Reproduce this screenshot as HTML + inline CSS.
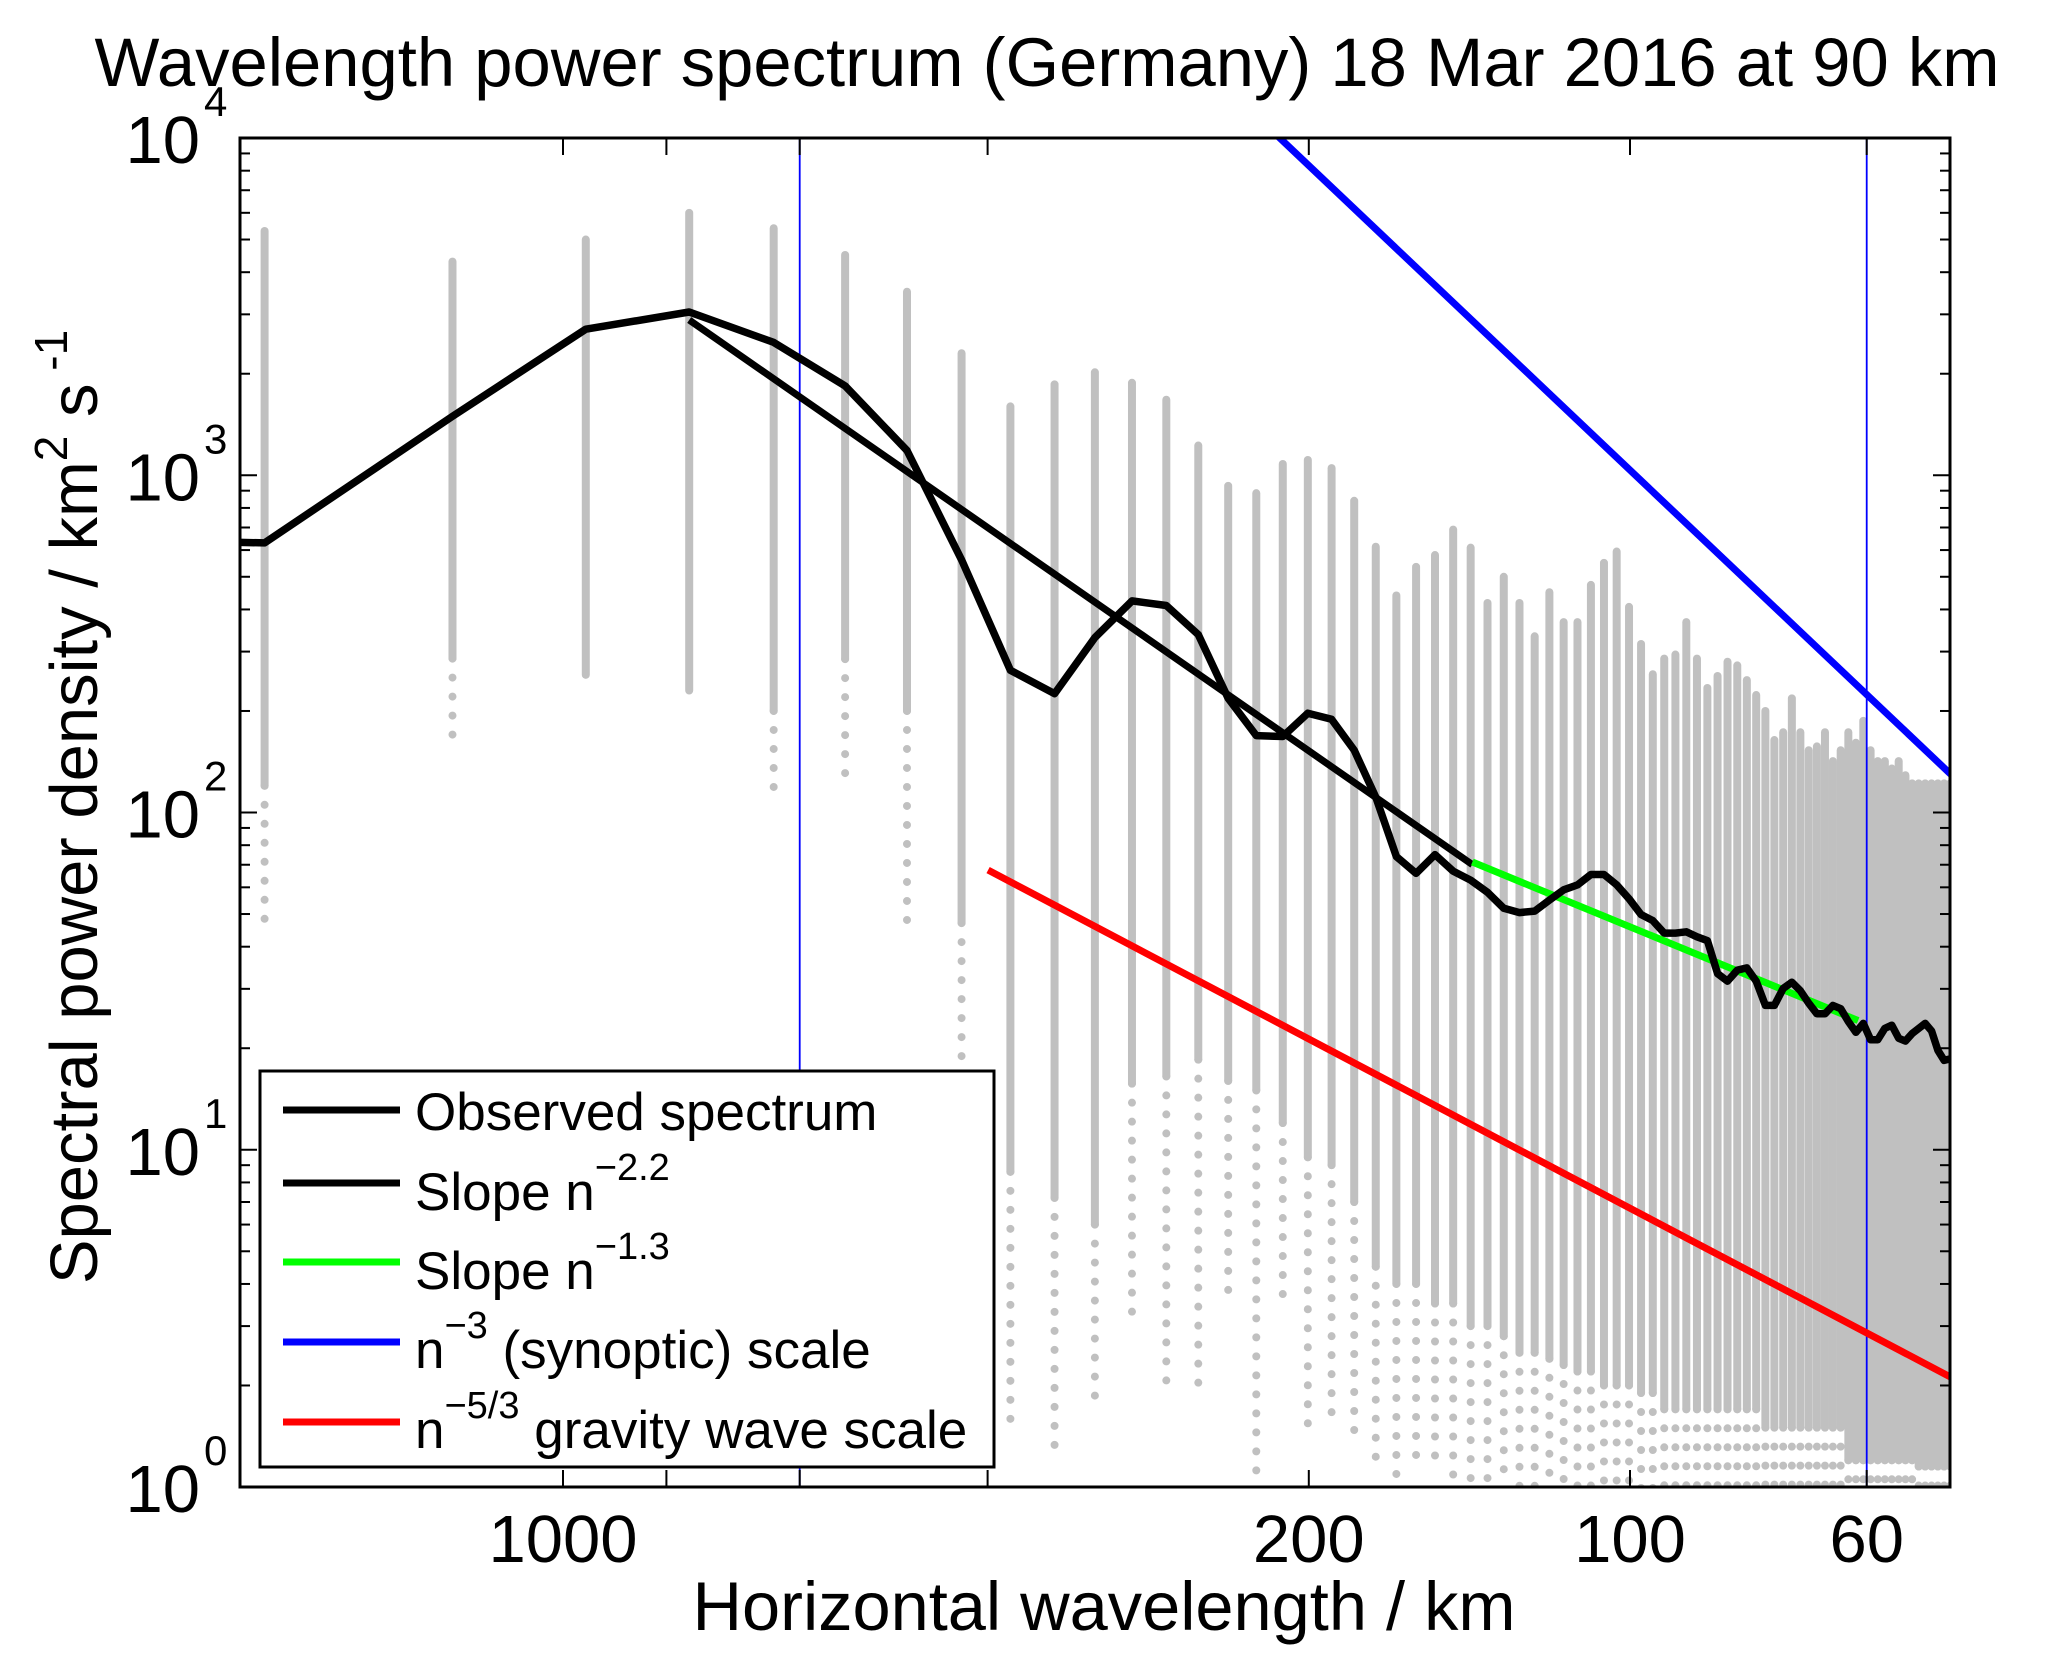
<!DOCTYPE html>
<html><head><meta charset="utf-8"><style>
html,body{margin:0;padding:0;background:#fff;}
svg{display:block;font-family:"Liberation Sans",Arial,sans-serif;}
</style></head><body>
<svg id="chart" width="2066" height="1657" viewBox="0 0 2066 1657" xmlns="http://www.w3.org/2000/svg">
<defs><clipPath id="plotclip"><rect x="240" y="138" width="1710" height="1349"/></clipPath></defs>
<rect width="2066" height="1657" fill="#fff"/>
<text x="1047" y="86" font-size="69" text-anchor="middle" textLength="1905" lengthAdjust="spacingAndGlyphs">Wavelength power spectrum (Germany) 18 Mar 2016 at 90 km</text>
<g id="dots" clip-path="url(#plotclip)"></g>
<g id="vlines" clip-path="url(#plotclip)"></g>
<g id="series" clip-path="url(#plotclip)"></g>
<rect x="240" y="138" width="1710" height="1349" fill="none" stroke="#000" stroke-width="3"/>
<g id="ticks"></g>
<text x="1104" y="1630" font-size="69" text-anchor="middle" textLength="823" lengthAdjust="spacingAndGlyphs">Horizontal wavelength / km</text>
<text transform="translate(97,807) rotate(-90)" font-size="67" text-anchor="middle">Spectral power density / km<tspan font-size="46" dy="-30">2</tspan><tspan dy="30"> s</tspan><tspan font-size="46" dy="-30"> -1</tspan></text>
<g>
<rect x="260" y="1071" width="734" height="396" fill="#fff" stroke="#000" stroke-width="3"/>
<line x1="283" y1="1110" x2="400" y2="1110" stroke="#000" stroke-width="7"/>
<text x="415" y="1130" font-size="53">Observed spectrum</text>
<line x1="283" y1="1183" x2="400" y2="1183" stroke="#000" stroke-width="7"/>
<text x="415" y="1210" font-size="53">Slope n<tspan font-size="38" dy="-30">−2.2</tspan></text>
<line x1="283" y1="1262" x2="400" y2="1262" stroke="#00ff00" stroke-width="7"/>
<text x="415" y="1289" font-size="53">Slope n<tspan font-size="38" dy="-30">−1.3</tspan></text>
<line x1="283" y1="1342" x2="400" y2="1342" stroke="#0000ff" stroke-width="7"/>
<text x="415" y="1368" font-size="53">n<tspan font-size="38" dy="-30">−3</tspan><tspan dy="30"> (synoptic) scale</tspan></text>
<line x1="283" y1="1422" x2="400" y2="1422" stroke="#ff0000" stroke-width="7"/>
<text x="415" y="1448" font-size="53">n<tspan font-size="38" dy="-30">−5/3</tspan><tspan dy="30"> gravity wave scale</tspan></text>
</g>
</svg>
<script>
// ---- data ----
const L0 = 3808; // wavelength (km) = L0 / k
const colK = [2,3,4,5,6,7,8,9,10,11,12,13,14,15,16,17,18,19,20,21,22,23,24,25,26,27,28,29,30,31,32,33,34,35,36,37,38,39,40,41,42,43,44,45,46,47,48,49,50,51,52,53,54,55,56,57,58,59,60,61,62,63,64,65,66,67,68,69,70,71,72,73,74,75,76];
const colTop = [5300,4300,5000,6000,5400,4500,3500,2300,1600,1860,2020,1880,1675,1225,930,885,1080,1110,1050,840,614,440,535,580,690,610,418,500,418,333,450,367,367,473,550,594,407,316,257,286,294,367,286,234,254,280,273,247,223,200,164,173,218,173,153,157,173,142,153,173,161,187,153,142,142,135,142,129,122,122,122,122,122,122,122];
const colDense = [120,286,256,230,200,285,200,47,8.6,7.2,6,15.7,16.5,18.5,16,15,12,9.5,9,7,4.5,4,4,3.5,3.5,3,3,2.8,2.5,2.5,2.4,2.3,2.2,2.2,2,2,2,1.9,1.9,1.7,1.7,1.7,1.7,1.7,1.7,1.7,1.7,1.7,1.7,1.5,1.5,1.5,1.5,1.5,1.5,1.5,1.5,1.5,1.5,1.2,1.2,1.2,1.2,1.2,1.2,1.2,1.2,1.2,1.2,1.15,1.15,1.15,1.15,1.15,1.15];
const colBottom = [48,160,256,230,110,120,47,18,1.5,1.3,1.8,3,2,2,3.4,1.1,3.4,1.4,1.5,1.4,1.1,1.05,1.1,1.1,1,1,1,1,1,0.98,0.98,0.98,0.98,0.98,0.98,0.98,0.98,0.98,0.98,0.98,0.98,0.98,0.98,0.98,0.98,0.98,0.98,0.98,0.98,0.98,0.98,0.98,0.98,0.98,0.98,0.98,0.98,0.98,0.98,0.98,0.98,0.98,0.98,0.98,0.98,0.98,0.98,0.98,0.98,0.98,0.98,0.98,0.98,0.98,0.98];
const obsK = [1,2,3,4,5,6,7,8,9,10,11,12,13,14,15,16,17,18,19,20,21,22,23,24,25,26,27,28,29,30,31,32,33,34,35,36,37,38,39,40,41,42,43,44,45,46,47,48,49,50,51,52,53,54,55,56,57,58,59,60,61,62,63,64,65,66,67,68,69,70,71,72,73,74,75,76];
const obsV = [660,630,1496,2710,3048,2477,1841,1184,561,264,225,330,424,411,337,218,169,168,197,189,153,111,74,66,75,67,63,58,52,50.5,51,55,59,61,65.5,65.5,61,55.5,49.8,47.8,43.9,43.9,44.3,42.8,41.7,33.3,31.6,34.1,34.6,31.6,26.8,26.8,30.1,31.4,29.6,27.2,25.3,25.3,26.8,26.2,24,22.3,23.7,21.2,21.2,22.9,23.4,21.4,21,22.1,22.9,23.7,22.5,19.7,18.4,18.6];
// power-law reference lines: start k, end k, value at start k, exponent
const fitNames = ['slope-n-2.2','slope-n-1.3','synoptic-n-3','gravity-wave-n-5-3'];
const fitColors = ['#000000','#00ff00','#0000ff','#ff0000'];
const fitK0 = [5, 27.1, 17.55, 9.53];
const fitK1 = [27.1, 62.3, 76.6, 76.6];
const fitV0 = [2886, 71.3, 10580, 67.5];
const fitExp = [-2.2, -1.3, -3, -5/3];
const markerLambda = [600, 60];
const xTickLambda = [1000, 800, 600, 400, 200, 100, 60];
const xTickLabels = ['1000', '', '', '', '200', '100', '60'];
const yTickExp = [0, 1, 2, 3, 4];

// ---- scales ----
const NS = 'http://www.w3.org/2000/svg';
function xL(l){ return 563 + 1067*Math.log10(1000/l); }
function xK(k){ return xL(L0/k); }
function yV(v){ return 1487 - 337.25*Math.log10(v); }
function mk(tag, attrs, parent){ const e=document.createElementNS(NS,tag); for(const a in attrs) e.setAttribute(a,attrs[a]); parent.appendChild(e); return e; }

// ---- scatter columns ----
const dots = document.getElementById('dots');
colK.forEach((k,i)=>{
  const x = xK(k);
  const d = mk('line',{x1:x,x2:x,y1:yV(colTop[i]),y2:yV(colDense[i]),stroke:'#c0c0c0','stroke-width':8,'stroke-linecap':'round'},dots);
  
  
  if (colBottom[i] < colDense[i]) {
    const s = mk('line',{x1:x,x2:x,y1:yV(colDense[i]),y2:yV(colBottom[i]),stroke:'#c0c0c0','stroke-width':8,'stroke-linecap':'round','stroke-dasharray':'0 19'},dots);
    
    
  }
});

// ---- vertical markers ----
const vl = document.getElementById('vlines');
markerLambda.forEach(l=>{
  const e = mk('line',{x1:xL(l),x2:xL(l),y1:138,y2:1487,stroke:'#0000ff','stroke-width':1.8},vl);
  
  
});

// ---- series ----
const ser = document.getElementById('series');
fitK0.forEach((k0,i)=>{
  const k1 = fitK1[i];
  const v1 = fitV0[i]*Math.pow(k1/k0, fitExp[i]);
  const e = mk('line',{x1:xK(k0),y1:yV(fitV0[i]),x2:xK(k1),y2:yV(v1),stroke:fitColors[i],'stroke-width':7},ser);
  
  
});
const pts = obsK.map((k,i)=>xK(k).toFixed(1)+','+yV(obsV[i]).toFixed(1)).join(' ');
const obs = mk('polyline',{points:pts,fill:'none',stroke:'#000','stroke-width':7.5,'stroke-linejoin':'round'},ser);



// ---- ticks ----
const tk = document.getElementById('ticks');
xTickLambda.forEach((l,i)=>{
  const x = xL(l);
  const a = mk('line',{x1:x,x2:x,y1:1487,y2:1470,stroke:'#000','stroke-width':2},tk);
  
  
  const b = mk('line',{x1:x,x2:x,y1:138,y2:155,stroke:'#000','stroke-width':2},tk);
  
  
  if (xTickLabels[i]) {
    const t = mk('text',{x:x,y:1562,'font-size':67,'text-anchor':'middle'},tk);
    t.textContent = xTickLabels[i];
    
    
  }
});
yTickExp.forEach(e=>{
  const y = yV(Math.pow(10,e));
  [[240,257],[1950,1933]].forEach(p=>{
    const l = mk('line',{x1:p[0],x2:p[1],y1:y,y2:y,stroke:'#000','stroke-width':2},tk);
    
    
  });
  if (e < 4) {
    for (let m=2;m<=9;m++){
      const ym = yV(m*Math.pow(10,e));
      [[240,250],[1950,1940]].forEach(p=>{
        const l = mk('line',{x1:p[0],x2:p[1],y1:ym,y2:ym,stroke:'#000','stroke-width':2},tk);
        
        
      });
    }
  }
  const t = mk('text',{x:200,y:y+25,'font-size':67,'text-anchor':'end'},tk);
  t.textContent = '10';
  
  
  const s = mk('text',{x:204,y:y-22,'font-size':42},tk);
  s.textContent = String(e);
  
  
});
</script>
</body></html>
